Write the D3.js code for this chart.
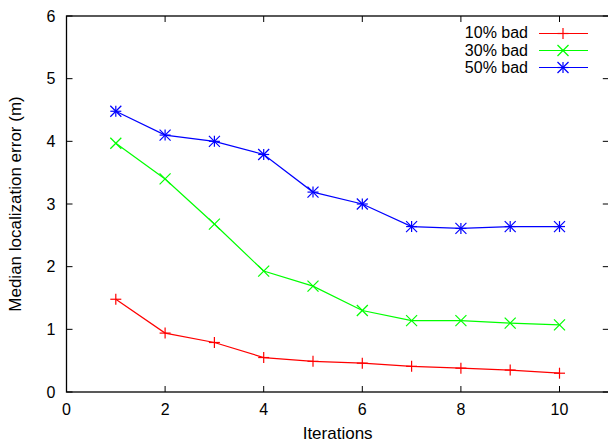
<!DOCTYPE html>
<html>
<head>
<meta charset="utf-8">
<script src="https://cdn.jsdelivr.net/npm/d3@7"></script>
<style>
  body { margin: 0; background: #fff; }
  text { font-family: "Liberation Sans", Arial, sans-serif; fill: #000; }
</style>
</head>
<body>
<div id="chart"></div>
<script>
var iterations = [1, 2, 3, 4, 5, 6, 7, 8, 9, 10];
var bad10 = [1.48, 0.94, 0.79, 0.55, 0.49, 0.46, 0.41, 0.38, 0.35, 0.30];
var bad30 = [3.97, 3.40, 2.68, 1.93, 1.69, 1.30, 1.14, 1.14, 1.10, 1.07];
var bad50 = [4.48, 4.10, 4.00, 3.79, 3.19, 3.00, 2.64, 2.61, 2.64, 2.64];
var seriesNames = ['10% bad', '30% bad', '50% bad'];
var xTicks = [0, 2, 4, 6, 8, 10];
var yTicks = [0, 1, 2, 3, 4, 5, 6];

var width = 608, height = 443;
var plotL = 66.5, plotR = 608.8, plotT = 16, plotB = 392;

var series = [
  {name: seriesNames[0], values: bad10, color: '#ff0000', marker: 'plus'},
  {name: seriesNames[1], values: bad30, color: '#00ff00', marker: 'cross'},
  {name: seriesNames[2], values: bad50, color: '#0000ff', marker: 'star'}
];

var x = d3.scaleLinear().domain([0, 11]).range([plotL, plotR]);
var y = d3.scaleLinear().domain([0, 6]).range([plotB, plotT]);

var svg = d3.select('#chart').append('svg')
    .attr('width', width)
    .attr('height', height);

// frame
svg.append('rect')
   .attr('x', plotL).attr('y', plotT)
   .attr('width', plotR - plotL).attr('height', plotB - plotT)
   .attr('fill', 'none')
   .attr('stroke', 'black')
   .attr('stroke-width', 1.3);

// inward ticks on all four sides (gnuplot mirror)
var tickLen = 6;
var grid = svg.append('g').attr('stroke', 'black').attr('stroke-width', 1);
xTicks.forEach(function(t) {
  grid.append('line').attr('x1', x(t)).attr('x2', x(t)).attr('y1', plotB).attr('y2', plotB - tickLen);
  grid.append('line').attr('x1', x(t)).attr('x2', x(t)).attr('y1', plotT).attr('y2', plotT + tickLen);
});
yTicks.forEach(function(t) {
  grid.append('line').attr('x1', plotL).attr('x2', plotL + tickLen).attr('y1', y(t)).attr('y2', y(t));
  grid.append('line').attr('x1', plotR).attr('x2', plotR - tickLen).attr('y1', y(t)).attr('y2', y(t));
});

svg.append('g').selectAll('text').data(xTicks)
   .enter().append('text')
   .attr('x', function(d) { return x(d); })
   .attr('y', plotB + 23)
   .attr('text-anchor', 'middle')
   .attr('font-size', 16)
   .text(function(d) { return d; });

svg.append('g').selectAll('text').data(yTicks)
   .enter().append('text')
   .attr('x', plotL - 11)
   .attr('y', function(d) { return y(d); })
   .attr('dy', '0.36em')
   .attr('text-anchor', 'end')
   .attr('font-size', 16)
   .text(function(d) { return d; });

svg.append('text')
   .attr('x', (plotL + plotR) / 2)
   .attr('y', 438.5)
   .attr('text-anchor', 'middle')
   .attr('font-size', 17)
   .text('Iterations');

svg.append('text')
   .attr('transform', 'translate(21,' + ((plotT + plotB) / 2) + ') rotate(-90)')
   .attr('text-anchor', 'middle')
   .attr('font-size', 17)
   .text('Median localization error (m)');

function drawMarker(g, kind, cx, cy, color) {
  var r = 5.5;
  var segs = [];
  if (kind === 'plus' || kind === 'star') {
    segs.push([cx - r, cy, cx + r, cy], [cx, cy - r, cx, cy + r]);
  }
  if (kind === 'cross' || kind === 'star') {
    segs.push([cx - r, cy - r, cx + r, cy + r], [cx - r, cy + r, cx + r, cy - r]);
  }
  segs.forEach(function(s) {
    g.append('line')
     .attr('x1', s[0]).attr('y1', s[1]).attr('x2', s[2]).attr('y2', s[3])
     .attr('stroke', color)
     .attr('stroke-width', 1.2);
  });
}

var line = d3.line()
    .x(function(d, i) { return x(iterations[i]); })
    .y(function(d) { return y(d); });

series.forEach(function(s) {
  var g = svg.append('g');
  g.append('path')
   .attr('d', line(s.values))
   .attr('fill', 'none')
   .attr('stroke', s.color)
   .attr('stroke-width', 1.2);
  s.values.forEach(function(v, i) {
    drawMarker(g, s.marker, x(iterations[i]), y(v), s.color);
  });
});

// legend
var legend = svg.append('g');
series.forEach(function(s, i) {
  var ly = 32.5 + i * 17.3;
  legend.append('text')
     .attr('x', 528)
     .attr('y', ly)
     .attr('dy', '0.36em')
     .attr('text-anchor', 'end')
     .attr('font-size', 16)
     .text(s.name);
  legend.append('line')
     .attr('x1', 539).attr('x2', 588)
     .attr('y1', Math.round(ly) + 0.5).attr('y2', Math.round(ly) + 0.5)
     .attr('stroke', s.color)
     .attr('stroke-width', 1.2);
  drawMarker(legend, s.marker, 563, Math.round(ly) + 0.5, s.color);
});
</script>
</body>
</html>
